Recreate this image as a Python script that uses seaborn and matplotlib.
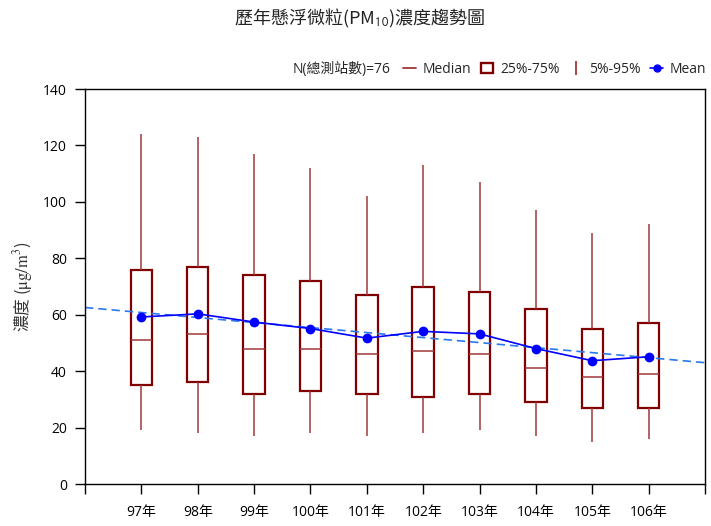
import numpy as np
import pandas as pd
import seaborn as sns
import matplotlib.pyplot as plt
from matplotlib.lines import Line2D
from matplotlib.patches import Rectangle

years = ['97年', '98年', '99年', '100年', '101年', '102年', '103年', '104年', '105年', '106年']
p5 = [19, 18, 17, 18, 17, 18, 19, 17, 15, 16]
q1 = [35, 36, 32, 33, 32, 31, 32, 29, 27, 27]
med = [51, 53, 48, 48, 46, 47, 46, 41, 38, 39]
q3 = [76, 77, 74, 72, 67, 70, 68, 62, 55, 57]
p95 = [124, 123, 117, 112, 102, 113, 107, 97, 89, 92]
means = [59.2, 60.3, 57.4, 55.1, 51.7, 54.1, 53.2, 48.0, 43.7, 45.1]
n_sites = 76

sns.set_style('white')
plt.rcParams['font.family'] = ['Open Sans', 'Noto Sans CJK TC', 'DejaVu Sans']
plt.rcParams['mathtext.fontset'] = 'stix'
cjk = ['Noto Sans CJK TC']

# long-form table: five summary values per year, whiskers at min/max -> 5%/95%
rows = []
for i, y in enumerate(years):
    for v in (p5[i], q1[i], med[i], q3[i], p95[i]):
        rows.append({'year': y, 'value': v})
df = pd.DataFrame(rows)

box_col = '#800000'
thin_col = '#a03838'

fig, ax = plt.subplots(figsize=(7.11, 5.26), dpi=100)
fig.subplots_adjust(left=85/711, right=705/711, bottom=1-484/526, top=1-89/526)

sns.boxplot(data=df, x='year', y='value', order=years, whis=(0, 100), width=0.38,
            showcaps=False, showfliers=False, ax=ax,
            boxprops=dict(facecolor='none', edgecolor=box_col, linewidth=1.6),
            whiskerprops=dict(color=thin_col, linewidth=1.1),
            medianprops=dict(color=thin_col, linewidth=1.1))

ax.set_xlim(-1, 10)
sns.regplot(x=np.arange(len(years)), y=means, scatter=False, ci=None, truncate=False,
            ax=ax, line_kws=dict(color='#2a78ee', lw=1.2, dashes=(5, 3)))
ax.plot(np.arange(len(years)), means, color='#0000ff', lw=1.2, marker='o',
        markersize=6, zorder=5)

ax.set_xlim(-1, 10)
ax.set_ylim(0, 140)
ax.set_yticks(range(0, 141, 20))
ax.set_xticks(range(-1, 11))
ax.set_xticklabels([''] + years + [''])
ax.tick_params(axis='both', direction='out', length=7, width=1, labelsize=10,
               colors='black', bottom=True, left=True)
ax.tick_params(axis='x', pad=8)
ax.tick_params(axis='y', pad=6)
ax.set_xlabel('')
ax.set_ylabel('濃度 ($\\mathrm{\\mu g/m^3}$)', fontsize=12, color='#333333', labelpad=6,
              family=cjk)
for s in ax.spines.values():
    s.set_visible(True)
    s.set_color('black')
    s.set_linewidth(1)

fig.text(360/711, 1-18/526, '歷年懸浮微粒(PM$_{\\mathsf{10}}$)濃度趨勢圖', ha='center', va='center',
         fontsize=13, color='#222222', family=cjk)
fig.text(293/711, 1-69/526, 'N(總測站數)=' + str(n_sites), ha='left', va='center', fontsize=10)

handles = [
    Line2D([0], [0], color=thin_col, lw=1.3),
    Rectangle((0, 0), 1, 1, facecolor='white', edgecolor=box_col, lw=1.7),
    Line2D([0], [0], color=thin_col, lw=0, marker='|', markersize=10, markeredgewidth=1.3),
    Line2D([0], [0], color='#0000ff', lw=1.2, marker='o', markersize=5),
]
labels = ['Median', '25%-75%', '5%-95%', 'Mean']
fig.legend(handles, labels, loc='center left', bbox_to_anchor=(403/711, 1-69/526),
           ncol=4, frameon=False, fontsize=10, handlelength=0.9, handletextpad=0.5,
           columnspacing=0.7, borderaxespad=0, borderpad=0)

fig.savefig('out.png', dpi=100)
